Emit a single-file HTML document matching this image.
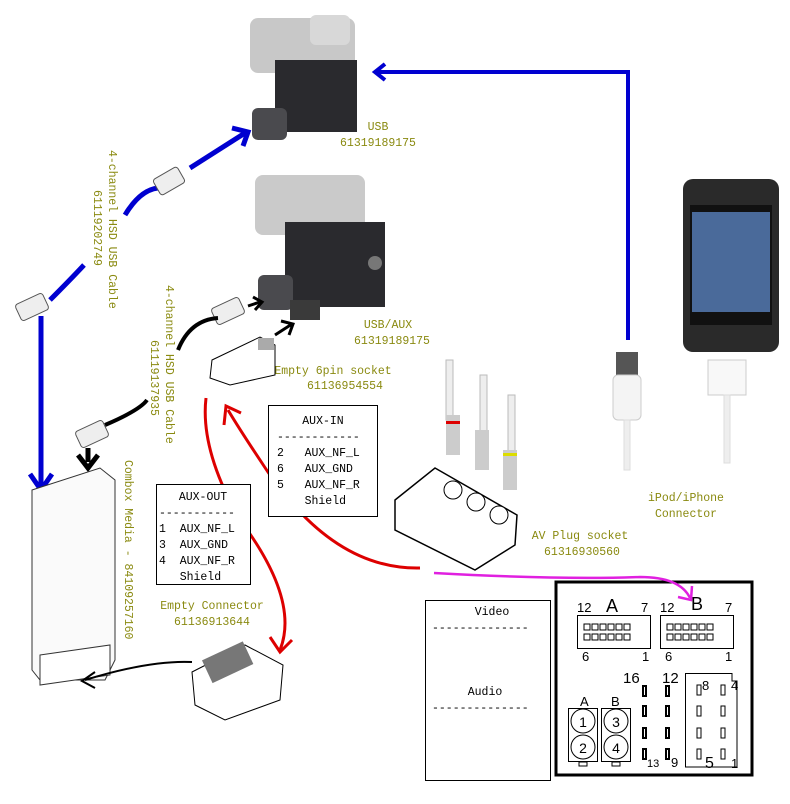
<!DOCTYPE html>
<html><head><meta charset="utf-8"><style>
html,body{margin:0;padding:0;background:#fff;}
svg{display:block}
text{white-space:pre}
.t{font-family:"Liberation Mono",monospace;font-size:11.5px;fill:#8a8a10}
.k{font-family:"Liberation Mono",monospace;font-size:11.5px;fill:#000}
.s{font-family:"Liberation Sans",sans-serif;fill:#000}
</style></head><body>
<svg width="790" height="804" viewBox="0 0 790 804" xmlns="http://www.w3.org/2000/svg" xml:space="preserve">
<rect x="250" y="18" width="105" height="55" rx="8" fill="#c8c8c8"/>
<rect x="310" y="15" width="40" height="30" rx="6" fill="#d8d8d8"/>
<rect x="275" y="60" width="82" height="72" fill="#2a2a2e"/>
<rect x="252" y="108" width="35" height="32" rx="6" fill="#4a4a4e"/>
<rect x="255" y="175" width="110" height="60" rx="8" fill="#cacaca"/>
<rect x="285" y="222" width="100" height="85" fill="#2a2a2e"/>
<rect x="258" y="275" width="35" height="35" rx="6" fill="#4a4a4e"/>
<rect x="290" y="300" width="30" height="20" fill="#3a3a3a"/>
<circle cx="375" cy="263" r="7" fill="#777"/>
<text class="t" x="378" y="130" text-anchor="middle">USB</text>
<text class="t" x="378" y="146" text-anchor="middle">61319189175</text>
<text class="t" x="388" y="328" text-anchor="middle">USB/AUX</text>
<text class="t" x="392" y="344" text-anchor="middle">61319189175</text>
<text class="t" x="333" y="374" text-anchor="middle">Empty 6pin socket</text>
<text class="t" x="345" y="389" text-anchor="middle">61136954554</text>
<text class="t" transform="translate(109,150) rotate(90)">4-channel HSD USB Cable</text>
<text class="t" transform="translate(94,190) rotate(90)">61119202749</text>
<text class="t" transform="translate(166,285) rotate(90)">4-channel HSD USB Cable</text>
<text class="t" transform="translate(151,340) rotate(90)">61119137935</text>
<text class="t" transform="translate(125,460) rotate(90)">Combox Media - 84109257160</text>
<text class="t" x="212" y="609" text-anchor="middle">Empty Connector</text>
<text class="t" x="212" y="625" text-anchor="middle">61136913644</text>
<text class="t" x="580" y="539" text-anchor="middle">AV Plug socket</text>
<text class="t" x="582" y="555" text-anchor="middle">61316930560</text>
<text class="t" x="686" y="501" text-anchor="middle">iPod/iPhone</text>
<text class="t" x="686" y="517" text-anchor="middle">Connector</text>
<path d="M628,340 L628,72 L378,72" fill="none" stroke="#0000d0" stroke-width="4"/>
<path d="M385,64 L375,72 L385,80" fill="none" stroke="#0000d0" stroke-width="4"/>
<path d="M190,168 L245,133" fill="none" stroke="#0000d0" stroke-width="5"/>
<path d="M232,128 L248,132 L243,146" fill="none" stroke="#0000d0" stroke-width="5"/>
<path d="M125,215 Q140,190 158,188" fill="none" stroke="#0000d0" stroke-width="5"/>
<path d="M50,300 Q70,280 84,265" fill="none" stroke="#0000d0" stroke-width="5"/>
<path d="M41,316 L41,488" fill="none" stroke="#0000d0" stroke-width="5"/>
<path d="M30,474 L41,490 L52,474" fill="none" stroke="#0000d0" stroke-width="5"/>
<rect x="155" y="172" width="28" height="18" rx="3" fill="#eee" stroke="#555" transform="rotate(-30 169 181)"/>
<rect x="17" y="298" width="30" height="18" rx="3" fill="#eee" stroke="#555" transform="rotate(-25 32 307)"/>
<rect x="213" y="302" width="30" height="18" rx="3" fill="#eee" stroke="#555" transform="rotate(-25 228 311)"/>
<rect x="77" y="425" width="30" height="18" rx="3" fill="#eee" stroke="#555" transform="rotate(-25 92 434)"/>
<path d="M105,425 Q140,410 147,400 M178,350 Q190,320 218,318" fill="none" stroke="#000" stroke-width="4"/>
<path d="M248,306 L260,302 M253,297 L262,302 L255,310" fill="none" stroke="#000" stroke-width="3"/>
<path d="M275,335 L292,324 M281,321 L293,324 L289,335" fill="none" stroke="#000" stroke-width="3"/>
<path d="M88,448 L88,462 M78,455 L88,468 L98,455" fill="none" stroke="#000" stroke-width="5"/>
<path d="M212,360 L260,337 L275,345 L275,375 L230,385 L210,378 Z" fill="#fff" stroke="#000"/>
<rect x="258" y="338" width="16" height="12" fill="#aaa"/>
<path d="M32,490 L100,468 L115,480 L115,660 L105,680 L40,680 L32,670 Z" fill="#fafafa" stroke="#333"/>
<path d="M40,655 L110,645 L110,675 L40,685 Z" fill="#fff" stroke="#333"/>
<path d="M192,662 Q150,660 85,680" fill="none" stroke="#000" stroke-width="2"/>
<path d="M95,672 L82,681 L95,688" fill="none" stroke="#000" stroke-width="2"/>
<path d="M192,672 L245,645 L283,665 L280,700 L225,720 L195,705 Z" fill="#fff" stroke="#000"/>
<rect x="205" y="650" width="45" height="25" fill="#777" transform="rotate(-25 227 662)"/>
<path d="M206,398 Q200,450 240,520 Q300,600 280,650" fill="none" stroke="#d00" stroke-width="3"/>
<path d="M270,637 L280,652 L292,640" fill="none" stroke="#d00" stroke-width="3"/>
<path d="M420,568 Q330,570 260,460 Q240,430 228,410" fill="none" stroke="#d00" stroke-width="3"/>
<path d="M224,425 L226,406 L241,413" fill="none" stroke="#d00" stroke-width="3"/>
<rect x="446" y="360" width="7" height="60" fill="#eee" stroke="#bbb"/>
<rect x="446" y="415" width="14" height="40" fill="#ccc"/><rect x="446" y="421" width="14" height="3" fill="#d00"/>
<rect x="480" y="375" width="7" height="60" fill="#eee" stroke="#bbb"/>
<rect x="475" y="430" width="14" height="40" fill="#ccc"/>
<rect x="508" y="395" width="7" height="60" fill="#eee" stroke="#bbb"/>
<rect x="503" y="450" width="14" height="40" fill="#ccc"/><rect x="503" y="453" width="14" height="3" fill="#dd0"/>
<path d="M395,500 L435,468 L517,515 L515,545 L475,570 L395,530 Z" fill="#fff" stroke="#000" stroke-width="1.5"/>
<circle cx="453" cy="490" r="9" fill="#fff" stroke="#000"/><circle cx="476" cy="502" r="9" fill="#fff" stroke="#000"/><circle cx="499" cy="515" r="9" fill="#fff" stroke="#000"/>
<rect x="616" y="352" width="22" height="25" fill="#555"/>
<rect x="613" y="375" width="28" height="45" rx="5" fill="#f4f4f4" stroke="#ccc"/>
<rect x="624" y="420" width="6" height="50" fill="#eee" stroke="#ddd"/>
<rect x="683" y="179" width="96" height="173" rx="10" fill="#2a2a2a"/>
<rect x="690" y="205" width="82" height="120" fill="#111"/>
<rect x="692" y="212" width="78" height="100" fill="#4a6a9a"/>
<rect x="708" y="360" width="38" height="35" fill="#f8f8f8" stroke="#ccc"/>
<rect x="724" y="395" width="6" height="68" fill="#eee" stroke="#ddd"/>
<rect x="268.5" y="405.5" width="109" height="111" fill="#fff" stroke="#000"/>
<text class="k" x="323" y="424" text-anchor="middle">AUX-IN</text>
<text class="k" x="277" y="440">------------</text>
<text class="k" x="277" y="456">2   AUX_NF_L</text>
<text class="k" x="277" y="472">6   AUX_GND</text>
<text class="k" x="277" y="488">5   AUX_NF_R</text>
<text class="k" x="277" y="504">    Shield</text>
<rect x="156.5" y="484.5" width="94" height="100" fill="#fff" stroke="#000"/>
<text class="k" x="203" y="500" text-anchor="middle">AUX-OUT</text>
<text class="k" x="159" y="516">-----------</text>
<text class="k" x="159" y="532">1  AUX_NF_L</text>
<text class="k" x="159" y="548">3  AUX_GND</text>
<text class="k" x="159" y="564">4  AUX_NF_R</text>
<text class="k" x="159" y="580">   Shield</text>
<rect x="425.5" y="600.5" width="125" height="180" fill="#fff" stroke="#000"/>
<text class="k" x="492" y="615" text-anchor="middle">Video</text>
<text class="k" x="432" y="631">--------------</text>
<text class="k" x="485" y="695" text-anchor="middle">Audio</text>
<text class="k" x="432" y="711">--------------</text>
<rect x="556" y="582" width="196" height="193" fill="#fff" stroke="#000" stroke-width="3"/>
<g class="s" font-size="13">
<text x="577" y="612">12</text><text x="606" y="612" font-size="18">A</text><text x="641" y="612">7</text>
<text x="660" y="612">12</text><text x="691" y="610" font-size="18">B</text><text x="725" y="612">7</text>
<text x="582" y="661">6</text><text x="642" y="661">1</text><text x="665" y="661">6</text><text x="725" y="661">1</text>
<text x="623" y="683" font-size="15">16</text><text x="662" y="683" font-size="15">12</text>
<text x="580" y="706">A</text><text x="611" y="706">B</text>
<text x="647" y="767" font-size="11">13</text><text x="671" y="767">9</text>
<text x="702" y="690">8</text><text x="731" y="690">4</text><text x="705" y="768" font-size="16">5</text><text x="731" y="768">1</text>
</g>
<rect x="577.5" y="615.5" width="73" height="33" fill="none" stroke="#000"/>
<rect x="660.5" y="615.5" width="73" height="33" fill="none" stroke="#000"/>
<g fill="none" stroke="#000">
<path d="M584,624h6v6h-6zM592,624h6v6h-6zM600,624h6v6h-6zM608,624h6v6h-6zM616,624h6v6h-6zM624,624h6v6h-6zM584,634h6v6h-6zM592,634h6v6h-6zM600,634h6v6h-6zM608,634h6v6h-6zM616,634h6v6h-6zM624,634h6v6h-6z"/>
<path d="M667,624h6v6h-6zM675,624h6v6h-6zM683,624h6v6h-6zM691,624h6v6h-6zM699,624h6v6h-6zM707,624h6v6h-6zM667,634h6v6h-6zM675,634h6v6h-6zM683,634h6v6h-6zM691,634h6v6h-6zM699,634h6v6h-6zM707,634h6v6h-6z"/>
<rect x="568.5" y="708.5" width="29" height="53"/><rect x="601.5" y="708.5" width="29" height="53"/>
<circle cx="583" cy="721" r="12"/><circle cx="583" cy="747" r="12"/><circle cx="616" cy="721" r="12"/><circle cx="616" cy="747" r="12"/>
<rect x="579" y="762" width="8" height="4"/><rect x="612" y="762" width="8" height="4"/>
<path d="M685.5,673.5 H732 V681 H737 V767 H685.5 Z"/>
<rect x="697" y="685" width="4" height="10"/><rect x="721" y="685" width="4" height="10"/>
<rect x="697" y="706" width="4" height="10"/><rect x="721" y="706" width="4" height="10"/>
<rect x="697" y="728" width="4" height="10"/><rect x="721" y="728" width="4" height="10"/>
<rect x="697" y="749" width="4" height="10"/><rect x="721" y="749" width="4" height="10"/>
</g>
<g fill="none" stroke="#000" stroke-width="2">
<rect x="643" y="686" width="3" height="10"/><rect x="666" y="686" width="3" height="10"/>
<rect x="643" y="706" width="3" height="10"/><rect x="666" y="706" width="3" height="10"/>
<rect x="643" y="728" width="3" height="10"/><rect x="666" y="728" width="3" height="10"/>
<rect x="643" y="749" width="3" height="10"/><rect x="666" y="749" width="3" height="10"/>
</g>
<text class="s" x="583" y="727" font-size="14" text-anchor="middle">1</text>
<text class="s" x="583" y="753" font-size="14" text-anchor="middle">2</text>
<text class="s" x="616" y="727" font-size="14" text-anchor="middle">3</text>
<text class="s" x="616" y="753" font-size="14" text-anchor="middle">4</text>
<path d="M434,573 Q560,580 640,577 Q680,577 690,598" fill="none" stroke="#e020e0" stroke-width="2.5"/>
<path d="M678,597 L691,600 L692,586" fill="none" stroke="#e020e0" stroke-width="2.5"/>
</svg>
</body></html>
